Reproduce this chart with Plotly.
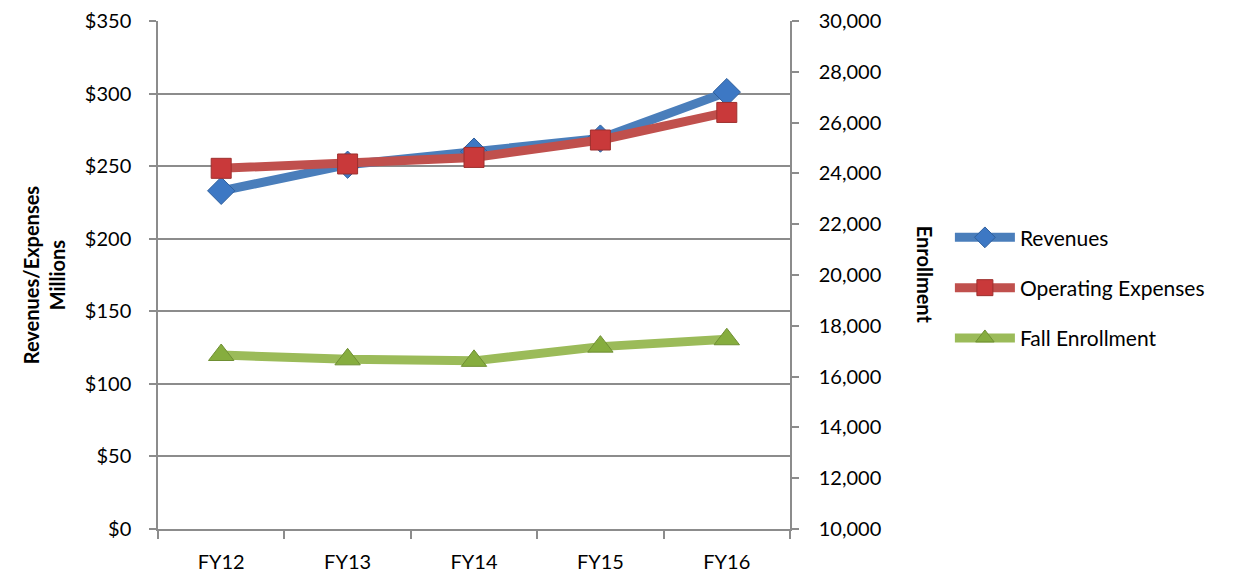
import plotly.graph_objects as go

categories = ["FY12", "FY13", "FY14", "FY15", "FY16"]
revenues = [233, 251, 260, 269, 301]
op_expenses = [248.5, 251.5, 256, 268, 287]
enrollment = [16850, 16680, 16620, 17180, 17470]

left_ticks = [0, 50, 100, 150, 200, 250, 300, 350]
left_labels = ["$" + str(v) for v in left_ticks]
right_ticks = [10000, 12000, 14000, 16000, 18000, 20000, 22000, 24000, 26000, 28000, 30000]

FONT = "Lato"
GRID = "#8c8c8c"

fig = go.Figure()
fig.add_trace(go.Scatter(
    x=categories, y=revenues, name="Revenues", mode="lines+markers", legendgroup="a",
    line=dict(color="#4a7ebb", width=9),
    marker=dict(symbol="diamond", size=21, color="#3d78c4", line=dict(color="#2f5f9c", width=1)),
))
fig.add_trace(go.Scatter(
    x=categories, y=op_expenses, name="Operating Expenses", mode="lines+markers", legendgroup="b",
    line=dict(color="#c0504d", width=9),
    marker=dict(symbol="square", size=20, color="#c9393a", line=dict(color="#9e2f2d", width=1)),
))
fig.add_trace(go.Scatter(
    x=categories, y=enrollment, name="Fall Enrollment", mode="lines+markers", yaxis="y2", legendgroup="c",
    line=dict(color="#9bbb59", width=9),
    marker=dict(symbol="triangle-up", size=22, color="#86ad3e", line=dict(color="#6f8f33", width=1)),
))

fig.update_layout(
    width=1237, height=568,
    margin=dict(l=150, r=455, t=13, b=47, autoexpand=False),
    paper_bgcolor="white", plot_bgcolor="white",
    font=dict(family=FONT, size=20, color="#000000"),
    showlegend=True,
    legend=dict(x=1.253, y=0.475, xanchor="left", yanchor="middle",
                font=dict(size=21, family=FONT), itemwidth=60, tracegroupgap=20,
                bgcolor="rgba(0,0,0,0)"),
    xaxis=dict(
        range=[-0.5, 4.5],
        showgrid=False, showline=True, linecolor=GRID, linewidth=1.5,
        ticks="outside", tickson="boundaries", ticklen=8, tickcolor=GRID, tickwidth=1.5,
        tickfont=dict(size=20, family=FONT), zeroline=False, automargin=False,
        ticklabelstandoff=14,
    ),
    yaxis=dict(
        range=[0, 350], tickvals=left_ticks, ticktext=left_labels,
        showgrid=True, gridcolor=GRID, gridwidth=1.5,
        showline=True, linecolor=GRID, linewidth=1.5,
        ticks="outside", ticklen=7, tickcolor=GRID, tickwidth=1.5,
        tickfont=dict(size=20, family=FONT), zeroline=False, ticklabelstandoff=14, automargin=False,
    ),
    yaxis2=dict(
        range=[10000, 30000], tickvals=right_ticks, tickformat=",d",
        overlaying="y", side="right", showgrid=False,
        showline=True, linecolor=GRID, linewidth=1.5,
        ticks="outside", ticklen=7, tickcolor=GRID, tickwidth=1.5,
        tickfont=dict(size=20, family=FONT), zeroline=False, ticklabelstandoff=16, automargin=False,
    ),
    annotations=[
        dict(text="<b>Revenues/Expenses<br>Millions</b>", xref="paper", yref="paper",
             x=-0.18, y=0.5, xanchor="center", yanchor="middle", textangle=-90,
             showarrow=False, font=dict(size=20, family=FONT)),
        dict(text="<b>Enrollment</b>", xref="paper", yref="paper",
             x=1.214, y=0.5, xanchor="center", yanchor="middle", textangle=90,
             showarrow=False, font=dict(size=20, family=FONT)),
    ],
)

fig.write_html("out.html")
